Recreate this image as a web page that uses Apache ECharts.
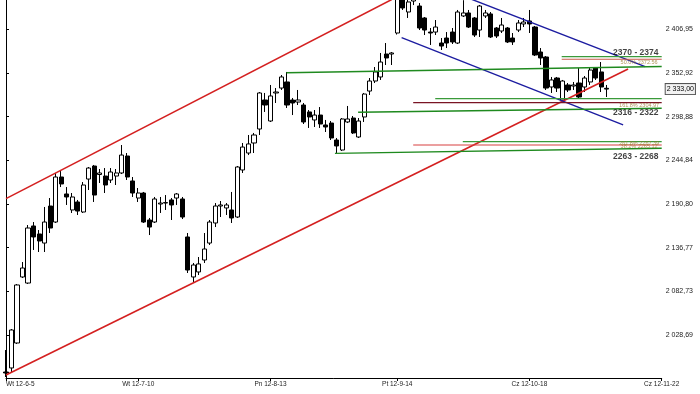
<!DOCTYPE html>
<html><head><meta charset="utf-8">
<script src="https://cdn.jsdelivr.net/npm/echarts@6/dist/echarts.min.js"></script>
<style>html,body{margin:0;padding:0;background:#fff}#c{width:700px;height:394px}</style>
</head><body><div id="c"></div>
<script>
// ---- axis data ----
const slotCount = 120;
const tickIndex = [0, 24, 48, 71, 95, 119];
const tickLabels = ['Wt 12-6-5', 'Wt 12-7-10', 'Pn 12-8-13', 'Pt 12-9-14', 'Cz 12-10-18', 'Cz 12-11-22'];
const yTicks = [2028.69, 2082.73, 2136.77, 2190.80, 2244.84, 2298.88, 2352.92, 2406.95];
const yMin = 1975.48, yMax = 2443.25;
const lastPrice = 2333.00;

// ---- candles (open, close, low, high) ----
const opens = [1982.9,1987.9,2018.8,2100.5,2093.0,2163.6,2153.7,2142.5,2188.3,2168.5,2224.2,2203.2,2183.4,2193.3,2180.9,2221.7,2237.8,2227.3,2225.4,2220.5,2225.4,2229.2,2250.2,2219.3,2198.2,2204.4,2171.0,2168.5,2190.8,2192.0,2195.8,2198.2,2197.0,2150.0,2100.5,2106.7,2121.5,2142.5,2167.3,2188.3,2185.9,2183.4,2174.7,2232.9,2253.9,2266.3,2283.6,2319.5,2293.5,2328.2,2334.3,2341.8,2319.5,2317.0,2313.3,2304.7,2294.8,2300.9,2288.6,2291.0,2270.0,2257.6,2292.3,2297.2,2273.7,2298.5,2330.6,2343.0,2348.0,2376.4,2376.4,2402.4,2452,2428.4,2442,2435.8,2421.0,2403.6,2403.6,2390.0,2396.2,2403.6,2390.0,2423.5,2427.2,2421.0,2406.1,2423.5,2426.0,2408.6,2404.9,2408.6,2396.2,2406.1,2413.6,2417.3,2409.8,2378.9,2372.7,2335.6,2346.7,2319.5,2338.1,2336.8,2340.5,2335.6,2341.8,2359.1,2354.2,2334.0];
const closes = [1981.7,2034.9,2090.6,2111.6,2161.1,2150.0,2145.0,2168.5,2161.1,2224.2,2215.6,2199.5,2199.5,2182.1,2214.3,2235.3,2201.9,2229.2,2214.3,2230.4,2229.2,2251.4,2224.2,2204.4,2204.4,2168.5,2162.3,2197.0,2192.0,2192.6,2189.6,2203.2,2174.7,2109.1,2115.3,2116.6,2135.1,2168.5,2188.3,2189.6,2189.6,2173.5,2236.6,2261.3,2265.1,2276.2,2328.2,2313.3,2324.5,2329.4,2348.0,2313.3,2315.8,2319.5,2292.3,2298.5,2300.9,2289.8,2286.1,2272.5,2262.6,2296.0,2296.0,2278.7,2293.5,2326.9,2343.0,2354.2,2366.5,2371.5,2377.7,2458,2433.4,2440.8,2448,2408.6,2406.1,2402.4,2409.8,2386.3,2390.0,2391.3,2428.4,2427.2,2409.8,2399.9,2435.8,2427.2,2397.5,2398.7,2412.3,2391.3,2391.3,2414.8,2416.0,2413.6,2375.2,2371.5,2334.3,2344.3,2334.3,2343.0,2331.9,2338.1,2323.2,2346.7,2356.6,2346.7,2335.6,2333.0];
const lows = [1976.7,1982.9,2017.6,2099.2,2091.8,2133.9,2131.4,2131.4,2154.9,2167.3,2211.8,2189.6,2179.7,2177.2,2179.7,2208.1,2193.3,2216.8,2204.4,2216.8,2214.3,2227.9,2220.5,2199.5,2193.3,2167.3,2152.4,2167.3,2179.7,2183.4,2171.0,2189.6,2172.2,2105.4,2094.3,2102.9,2117.8,2140.1,2162.3,2174.7,2177.2,2167.3,2173.5,2229.2,2251.4,2253.9,2276.2,2304.7,2292.3,2315.8,2331.9,2309.6,2300.9,2313.3,2289.8,2284.9,2286.1,2284.9,2279.9,2270.0,2253.9,2256.4,2291.0,2277.4,2272.5,2292.3,2325.7,2340.5,2344.3,2362.8,2362.8,2400.5,2430.9,2421.0,2437,2406.1,2399.9,2387.6,2399.9,2381.4,2383.8,2388.8,2388.8,2422.2,2408.6,2397.5,2397.5,2421.0,2396.2,2396.2,2402.4,2390.0,2387.6,2403.6,2409.8,2402.4,2373.9,2362.8,2331.9,2328.2,2329.4,2318.3,2329.4,2331.9,2322.0,2329.4,2338.1,2344.3,2329.4,2323.2];
const highs = [2010.1,2036.1,2091.8,2119.0,2164.8,2168.5,2158.6,2187.1,2198.2,2229.2,2232.9,2211.8,2204.4,2195.8,2218.0,2236.6,2239.1,2234.1,2235.3,2235.3,2234.1,2263.8,2253.9,2224.2,2210.6,2205.7,2173.5,2199.5,2199.5,2201.9,2198.2,2204.4,2199.5,2154.9,2117.8,2125.2,2154.9,2171.0,2192.0,2194.5,2192.0,2205.7,2237.8,2266.3,2276.2,2278.7,2329.4,2328.2,2338.1,2334.3,2350.4,2354.2,2322.0,2331.9,2315.8,2307.1,2307.1,2310.8,2294.8,2293.5,2272.5,2297.2,2312.1,2299.7,2297.2,2328.2,2346.7,2360.3,2377.7,2390.0,2378.9,2466,2460,2446,2453,2439.5,2422.2,2408.6,2418.5,2396.2,2403.6,2408.6,2430.9,2443,2430.9,2422.2,2437.1,2430.9,2428.4,2409.8,2421.0,2409.8,2402.4,2418.5,2421.0,2430.9,2411.1,2383.8,2373.9,2348.0,2348.0,2344.3,2340.5,2341.8,2359.1,2349.2,2360.3,2360.3,2366.5,2338.1];

// ---- drawn lines: [barIndex, value] endpoints ----
const redUpper = [[0, 2197.5], [70, 2443.8]];
const redLower = [[0, 1979.2], [112.9, 2357.9]];
const blueUpper = [[80, 2456.0], [116, 2360.7]];
const blueLower = [[71.8, 2396.6], [112, 2288.6]];
const green1 = [[50.9, 2353.3], [119, 2361.0]];
const green2 = [[63.9, 2304.3], [119, 2309.2]];
const green3 = [[59.7, 2253.5], [119, 2259.7]];
const zoneAGreen = [[100.85, 2373.1], [119, 2373.1]];
const zoneARed = [[100.85, 2369.9], [119, 2369.9]];
const zoneBGreen = [[77.9, 2321.1], [119, 2321.1]];
const zoneBMaroon = [[73.9, 2316.2], [119, 2316.2]];
const zoneCGreen = [[82.9, 2267.9], [119, 2267.9]];
const zoneCRed = [[73.9, 2263.8], [119, 2263.8]];

// ---- annotations ----
const zoneTexts = ['2370 - 2374', '2316 - 2322', '2263 - 2268'];
const zoneTextAt = [[114.3, 2378.0], [114.3, 2303.8], [114.3, 2249.6]];
const fibTexts = ['50.0% 2372.56', '161.8% 2304.97', '261.8% 2267.39', '38.2% 2265.12'];
const fibTextAt = [[114.9, 2365.9], [114.9, 2312.6], [114.9, 2266.3], [114.9, 2262.4]];

const categories = [];
for (let i = 0; i < slotCount; i++) {
  const k = tickIndex.indexOf(i);
  categories.push(k >= 0 ? tickLabels[k] : '');
}
const candleData = opens.map((o, i) => [o, closes[i], lows[i], highs[i]]);

function fmt(v) {
  const s = Number(v).toFixed(2).split('.');
  return s[0].replace(/\B(?=(\d{3})+(?!\d))/g, ' ') + ',' + s[1];
}

const FONT = 'Liberation Sans';
const NARROW = '"Liberation Sans Narrow", "Liberation Sans"';
function lineSeries(data, color, width) {
  return { type: 'line', xAxisIndex: 1, yAxisIndex: 0, data: data, symbol: 'none',
    lineStyle: { color: color, width: width }, silent: true, z: 3, animation: false };
}

const series = [
  { type: 'candlestick', data: candleData, xAxisIndex: 0, yAxisIndex: 0, barWidth: 4.6, clip: false, z: 2,
    itemStyle: { color: '#ffffff', color0: '#000000', borderColor: '#000000', borderColor0: '#000000', borderWidth: 1 },
    markLine: { symbol: 'none', silent: true, animation: false,
      lineStyle: { width: 0, color: 'rgba(0,0,0,0)' },
      label: { show: true, position: 'end', distance: 4, formatter: fmt(lastPrice), fontFamily: FONT, fontSize: 7,
        color: '#000', backgroundColor: '#f2f2f2', borderColor: '#555', borderWidth: 1, padding: [2, 1, 1, 1] },
      data: [{ yAxis: lastPrice }] } },
  lineSeries(redUpper, '#d42020', 1.6),
  lineSeries(redLower, '#d42020', 1.6),
  lineSeries(blueUpper, '#1c1ca0', 1.4),
  lineSeries(blueLower, '#1c1ca0', 1.4),
  lineSeries(green1, '#1f8a1f', 1.4),
  lineSeries(green2, '#1f8a1f', 1.4),
  lineSeries(green3, '#1f8a1f', 1.4),
  lineSeries(zoneAGreen, '#3a9a3a', 1.2),
  lineSeries(zoneARed, '#c85a4a', 1.2),
  lineSeries(zoneBGreen, '#3a9a3a', 1.2),
  lineSeries(zoneBMaroon, '#7a1424', 1.4),
  lineSeries(zoneCGreen, '#3a9a3a', 1.2),
  lineSeries(zoneCRed, '#d84040', 1.2),
  { type: 'scatter', xAxisIndex: 1, yAxisIndex: 0, symbolSize: 0, silent: true, z: 5,
    data: zoneTexts.map((t, i) => ({ value: zoneTextAt[i], name: t })),
    label: { show: true, position: 'inside', formatter: p => p.name, fontFamily: NARROW, fontWeight: 'bold', fontSize: 8.5, color: '#111' } },
  { type: 'scatter', xAxisIndex: 1, yAxisIndex: 0, symbolSize: 0, silent: true, z: 5,
    data: fibTexts.map((t, i) => ({ value: fibTextAt[i], name: t })),
    label: { show: true, position: 'inside', formatter: p => p.name, fontFamily: NARROW, fontSize: 5.5, color: '#9a7a30' } }
];

const chart = echarts.init(document.getElementById('c'), null, { renderer: 'canvas' });
chart.setOption({
  animation: false,
  backgroundColor: '#ffffff',
  grid: { left: 6, right: 38.3, top: 0, bottom: 16, containLabel: false },
  xAxis: [
    { type: 'category', data: categories, boundaryGap: false,
      axisLine: { show: true, lineStyle: { color: '#000', width: 1 } },
      axisTick: { show: true, interval: i => tickIndex.indexOf(i) >= 0, length: 3, lineStyle: { color: '#000' } },
      axisLabel: { interval: i => tickIndex.indexOf(i) >= 0, fontFamily: FONT, fontSize: 6.5, color: '#222', margin: 3, alignMinLabel: 'left' },
      splitLine: { show: false } },
    { type: 'value', min: 0, max: slotCount - 1, show: false }
  ],
  yAxis: [
    { type: 'value', position: 'right', min: yMin, max: yMax, scale: true,
      axisLine: { show: true, lineStyle: { color: '#000', width: 1 } },
      axisTick: { show: true, customValues: yTicks, length: 3, lineStyle: { color: '#000' } },
      axisLabel: { customValues: yTicks, formatter: v => fmt(v), fontFamily: FONT, fontSize: 7, color: '#222', margin: 4 },
      splitLine: { show: false } }
  ],
  series: series
});
</script>
</body></html>
